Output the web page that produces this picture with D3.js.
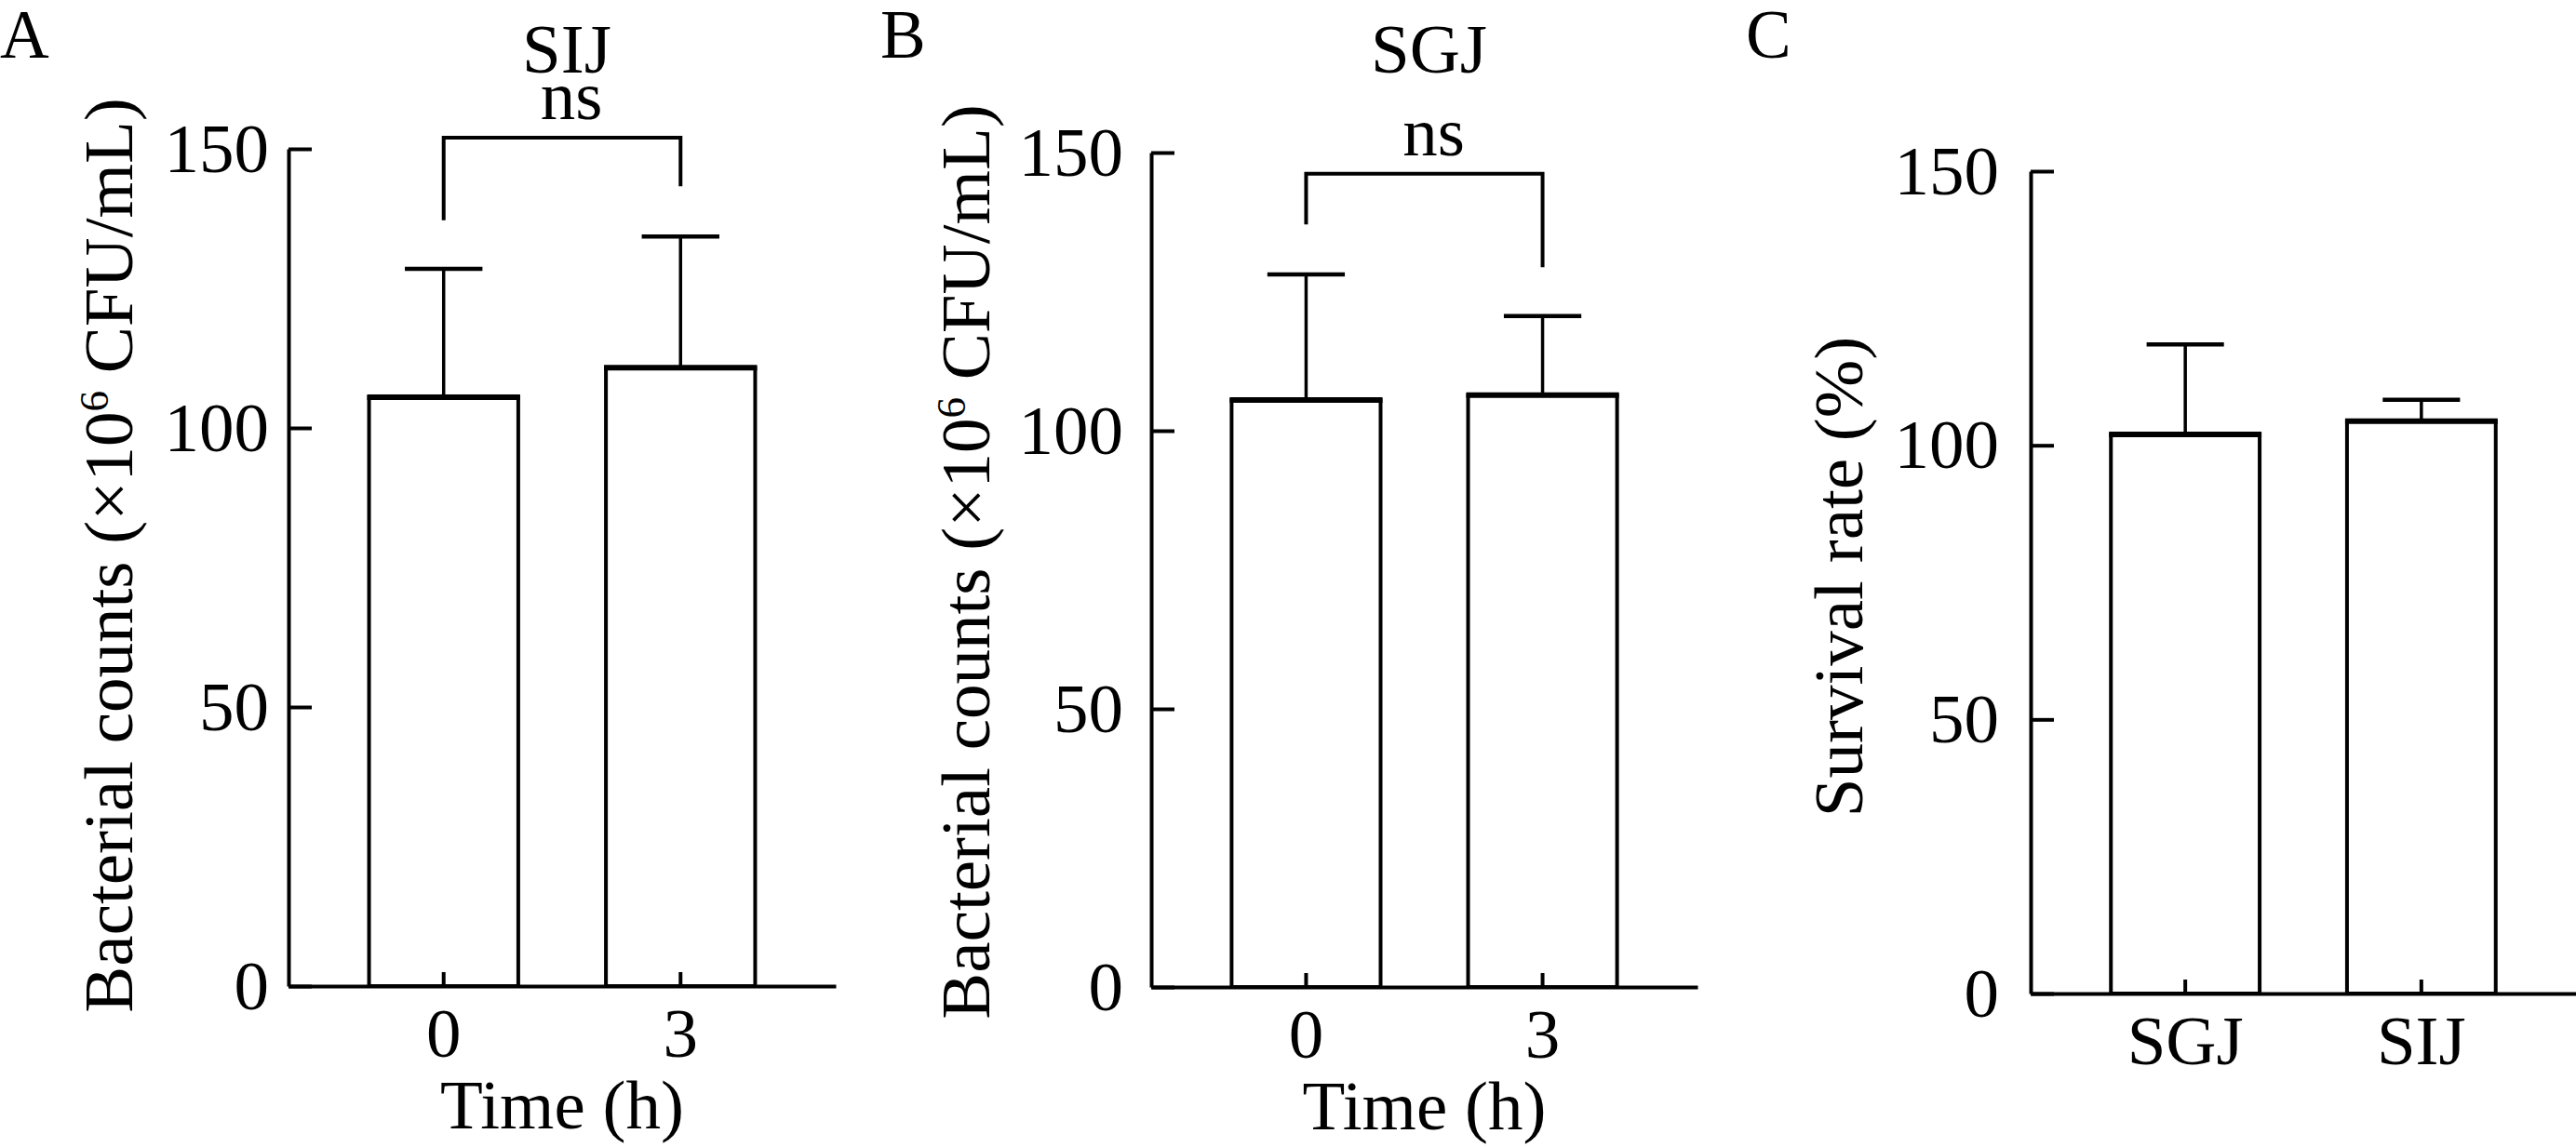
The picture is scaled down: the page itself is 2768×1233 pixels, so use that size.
<!DOCTYPE html>
<html lang="en">
<head>
    <meta charset="UTF-8">
    <title>Bacterial counts and survival rate</title>
    <script src="https://d3js.org/d3.v7.min.js"></script>
    <style>
        body { margin: 0; background: #fff; }
        svg text { font-family: "Liberation Serif", "Times New Roman", serif; fill: #000; }
    </style>
</head>
<body>
<svg id="chart" width="2768" height="1233"></svg>
<script>
    // values
    const timeLabels = ["0", "3"];
    const juiceLabels = ["SGJ", "SIJ"];
    const yTicks = [0, 50, 100, 150];

    const sijMeans = [105.5, 110.8];
    const sijSd = [23.0, 23.5];
    const sijBracket = [152, 137.2, 143.3];   // top, left leg end, right leg end

    const sgjMeans = [105.5, 106.4];
    const sgjSd = [22.6, 14.2];
    const sgjBracket = [146.2, 137.1, 129.4];

    const survivalMeans = [102.0, 104.4];
    const survivalSd = [16.4, 3.9];

    const countLabel = "Bacterial counts (×10";

    const panels = [
        {letter: "A", title: "SIJ", cats: timeLabels, means: sijMeans, sd: sijSd, bracket: sijBracket,
         xTitle: "Time (h)", ylab: "count", left: 310, right: 898, bottom: 1060, top: 160,
         letterX: 0, tickGap: 21, labelX: 142, labelY: 597},
        {letter: "B", title: "SGJ", cats: timeLabels, means: sgjMeans, sd: sgjSd, bracket: sgjBracket,
         xTitle: "Time (h)", ylab: "count", left: 1237, right: 1824, bottom: 1061, top: 164,
         letterX: 946, tickGap: 30, labelX: 1063, labelY: 604},
        {letter: "C", title: null, cats: juiceLabels, means: survivalMeans, sd: survivalSd, bracket: null,
         xTitle: null, ylab: "survival", left: 2182, right: 2768, bottom: 1068, top: 184,
         letterX: 1876, tickGap: 34, labelX: 2001, labelY: 620}
    ];

    const svg = d3.select("#chart");
    svg.append("rect").attr("width", 2768).attr("height", 1233).attr("fill", "#fff");

    const fontSize = 75;
    const lw = 4;

    panels.forEach(p => {
        const x = d3.scaleBand().domain(p.cats).range([p.left, p.right])
            .paddingInner(0.37).paddingOuter(0.34);
        const y = d3.scaleLinear().domain([0, 150]).range([p.bottom, p.top]);
        const g = svg.append("g");

        // panel letter
        g.append("text").attr("x", p.letterX).attr("y", 62)
            .attr("font-size", 73).text(p.letter);

        // bars
        const rows = p.cats.map((c, i) => ({cat: c, mean: p.means[i], sd: p.sd[i]}));
        g.selectAll(".bar").data(rows).join("rect")
            .attr("class", "bar")
            .attr("x", d => x(d.cat))
            .attr("y", d => y(d.mean))
            .attr("width", x.bandwidth())
            .attr("height", d => y(0) - y(d.mean))
            .attr("fill", "#fff").attr("stroke", "#000").attr("stroke-width", lw);
        g.selectAll(".bartop").data(rows).join("line")
            .attr("x1", d => x(d.cat) - 2).attr("x2", d => x(d.cat) + x.bandwidth() + 2)
            .attr("y1", d => y(d.mean)).attr("y2", d => y(d.mean))
            .attr("stroke", "#000").attr("stroke-width", 6);

        // error bars (upper only)
        const cx = d => x(d.cat) + x.bandwidth() / 2;
        const capW = x.bandwidth() * 0.52;
        g.selectAll(".whisker").data(rows).join("line")
            .attr("x1", cx).attr("x2", cx)
            .attr("y1", d => y(d.mean)).attr("y2", d => y(d.mean + d.sd))
            .attr("stroke", "#000").attr("stroke-width", 3.5);
        g.selectAll(".cap").data(rows).join("line")
            .attr("x1", d => cx(d) - capW / 2).attr("x2", d => cx(d) + capW / 2)
            .attr("y1", d => y(d.mean + d.sd)).attr("y2", d => y(d.mean + d.sd))
            .attr("stroke", "#000").attr("stroke-width", 4.5);

        // y axis, ticks pointing inward
        const yAxis = g.append("g")
            .attr("transform", `translate(${p.left},0)`)
            .call(d3.axisLeft(y).tickValues(yTicks).tickSizeInner(-25).tickSizeOuter(0).tickPadding(p.tickGap));
        // x axis, ticks pointing up
        const xAxis = g.append("g")
            .attr("transform", `translate(0,${p.bottom})`)
            .call(d3.axisBottom(x).tickSizeInner(-15).tickSizeOuter(0).tickPadding(23));

        [yAxis, xAxis].forEach(a => {
            a.attr("font-family", null).attr("font-size", fontSize);
            a.selectAll("path, line").attr("stroke", "#000").attr("stroke-width", lw);
            a.selectAll("text").attr("fill", "#000");
        });

        // axis titles
        if (p.xTitle) {
            g.append("text").attr("x", (p.left + p.right) / 2).attr("y", p.bottom + 153)
                .attr("text-anchor", "middle").attr("font-size", fontSize).text(p.xTitle);
        }
        const yl = g.append("text")
            .attr("transform", `translate(${p.labelX},${p.labelY}) rotate(-90)`)
            .attr("text-anchor", "middle").attr("font-size", fontSize);
        if (p.ylab === "count") {
            yl.append("tspan").text(countLabel);
            yl.append("tspan").attr("dy", -26).attr("font-size", 45).text("6");
            yl.append("tspan").attr("dy", 26).text(" CFU/mL)");
        } else {
            yl.text("Survival rate (%)");
        }

        // title and significance bracket
        const mid = (cx(rows[0]) + cx(rows[1])) / 2;
        if (p.title) {
            g.append("text").attr("x", mid + 5).attr("y", 78)
                .attr("text-anchor", "middle").attr("font-size", fontSize).text(p.title);
        }
        if (p.bracket) {
            const [topV, leftV, rightV] = p.bracket;
            const pts = [[cx(rows[0]), y(leftV)], [cx(rows[0]), y(topV)],
                         [cx(rows[1]), y(topV)], [cx(rows[1]), y(rightV)]];
            g.append("path").attr("d", d3.line()(pts))
                .attr("fill", "none").attr("stroke", "#000").attr("stroke-width", lw);
            g.append("text").attr("x", mid + 10).attr("y", y(topV) - 20)
                .attr("text-anchor", "middle").attr("font-size", fontSize).text("ns");
        }
    });
</script>
</body>
</html>
